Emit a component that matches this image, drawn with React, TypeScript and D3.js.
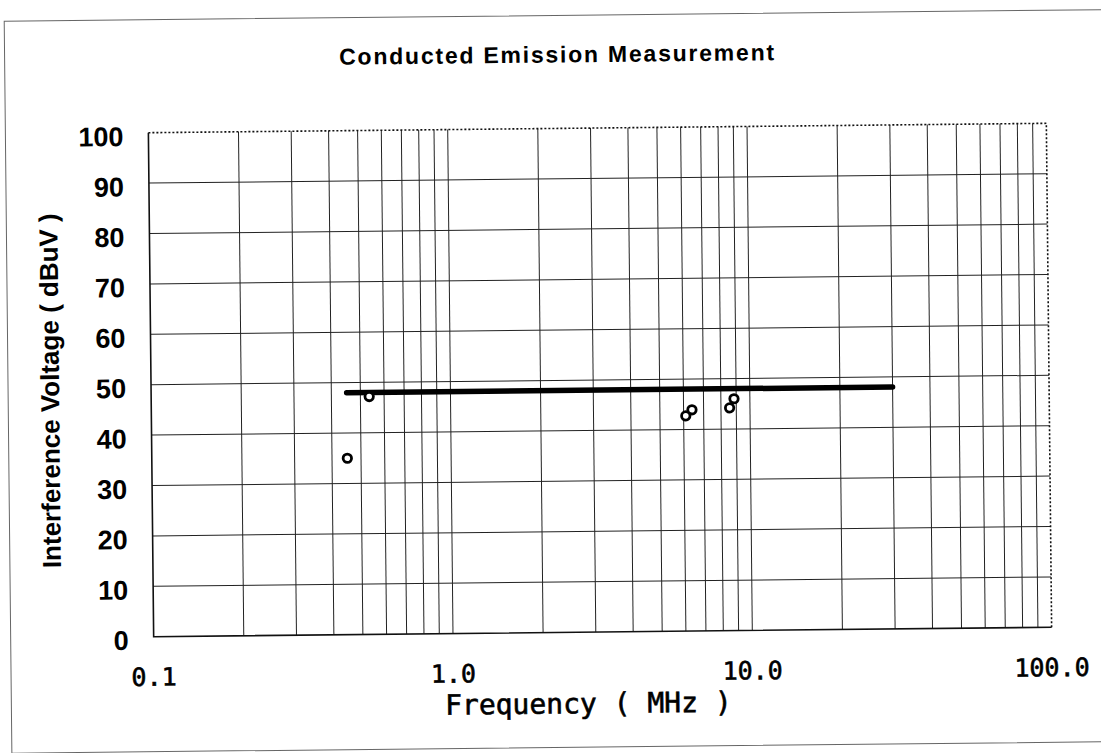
import React, { useEffect, useRef } from "react";
import * as d3 from "d3";

const limitFreq = [0.45, 30];
const limitLevel = [48, 48];

const measFreq = [0.45, 0.535, 6.1, 6.4, 8.55, 8.85];
const measLevel = [35, 47.2, 42.7, 43.9, 44.2, 46.0];

const yTicks = [0, 10, 20, 30, 40, 50, 60, 70, 80, 90, 100];
const xTickValues = [0.1, 1, 10, 100];
const xTickLabels = ["0.1", "1.0", "10.0", "100.0"];

const App = () => {
  const svgRef = useRef<SVGSVGElement | null>(null);

  useEffect(() => {
    const width = 1101;
    const height = 753;
    const svg = d3.select(svgRef.current);
    svg.selectAll("*").remove();
    svg.attr("width", width).attr("height", height);

    const left = 151;
    const right = 1049;
    const top = 128;
    const bottom = 632;

    // the scan sits slightly rotated on the page
    const root = svg
      .append("g")
      .attr("transform", `rotate(-0.6, ${(left + right) / 2}, ${(top + bottom) / 2})`);

    const x = d3.scaleLog().domain([0.1, 100]).range([left, right]);
    const y = d3.scaleLinear().domain([0, 100]).range([bottom, top]);

    const sans = "'Liberation Sans', Arial, sans-serif";
    const mono = "'DejaVu Sans Mono', 'Liberation Mono', monospace";

    // outer sheet border
    root
      .append("rect")
      .attr("x", 8)
      .attr("y", 15)
      .attr("width", 1130)
      .attr("height", 732)
      .attr("fill", "none")
      .attr("stroke", "#666")
      .attr("stroke-width", 1);

    // title
    root
      .append("text")
      .attr("x", 560)
      .attr("y", 62)
      .attr("text-anchor", "middle")
      .attr("font-family", sans)
      .attr("font-weight", "bold")
      .attr("font-size", 23)
      .attr("textLength", 435)
      .attr("lengthAdjust", "spacing")
      .text("Conducted Emission Measurement");

    // grid
    const grid = root.append("g").attr("stroke", "#222").attr("stroke-width", 1);
    x.ticks()
      .filter((d) => d > 0.1 && d < 100)
      .forEach((d) => {
        grid
          .append("line")
          .attr("x1", x(d))
          .attr("x2", x(d))
          .attr("y1", top)
          .attr("y2", bottom);
      });
    yTicks
      .filter((d) => d > 0 && d < 100)
      .forEach((d) => {
        grid
          .append("line")
          .attr("x1", left)
          .attr("x2", right)
          .attr("y1", y(d))
          .attr("y2", y(d));
      });

    // frame: solid left/bottom, dotted top/right
    root
      .append("path")
      .attr("d", `M${left},${top}V${bottom}H${right}`)
      .attr("fill", "none")
      .attr("stroke", "#111")
      .attr("stroke-width", 1.6);
    root
      .append("path")
      .attr("d", `M${left},${top}H${right}V${bottom}`)
      .attr("fill", "none")
      .attr("stroke", "#111")
      .attr("stroke-width", 1.6)
      .attr("stroke-dasharray", "2,2");

    // y tick labels
    yTicks.forEach((d) => {
      root
        .append("text")
        .attr("x", left - 25)
        .attr("y", y(d) + 13)
        .attr("text-anchor", "end")
        .attr("font-family", sans)
        .attr("font-weight", "bold")
        .attr("font-size", 27)
        .text(d);
    });

    // x tick labels (medium weight: regular face with a thin outline)
    xTickValues.forEach((d, i) => {
      root
        .append("text")
        .attr("x", x(d))
        .attr("y", bottom + 49)
        .attr("text-anchor", "middle")
        .attr("font-family", mono)
        .attr("font-size", 25)
        .attr("stroke", "#000")
        .attr("stroke-width", 0.6)
        .text(xTickLabels[i]);
    });

    // axis titles
    root
      .append("text")
      .attr("x", (left + right) / 2 - 15)
      .attr("y", bottom + 81)
      .attr("text-anchor", "middle")
      .attr("font-family", mono)
      .attr("font-size", 28)
      .attr("stroke", "#000")
      .attr("stroke-width", 0.6)
      .attr("xml:space", "preserve")
      .text("Frequency ( MHz )");

    root
      .append("text")
      .attr("transform", `translate(59, ${(top + bottom) / 2 + 5}) rotate(-90)`)
      .attr("text-anchor", "middle")
      .attr("font-family", sans)
      .attr("font-weight", "bold")
      .attr("font-size", 26)
      .text("Interference Voltage ( dBuV )");

    // limit line
    const line = d3
      .line<number>()
      .x((d, i) => x(limitFreq[i]))
      .y((d) => y(d));
    root
      .append("path")
      .attr("d", line(limitLevel))
      .attr("fill", "none")
      .attr("stroke", "#000")
      .attr("stroke-width", 5.5)
      .attr("stroke-linecap", "round");

    // measured points
    root
      .append("g")
      .selectAll("circle")
      .data(measLevel)
      .join("circle")
      .attr("cx", (d, i) => x(measFreq[i]))
      .attr("cy", (d) => y(d))
      .attr("r", 4.2)
      .attr("fill", "#fff")
      .attr("stroke", "#000")
      .attr("stroke-width", 2.8);
  }, []);

  return <svg ref={svgRef} style={{ position: "absolute", left: 0, top: 0 }}></svg>;
};

export default App;
